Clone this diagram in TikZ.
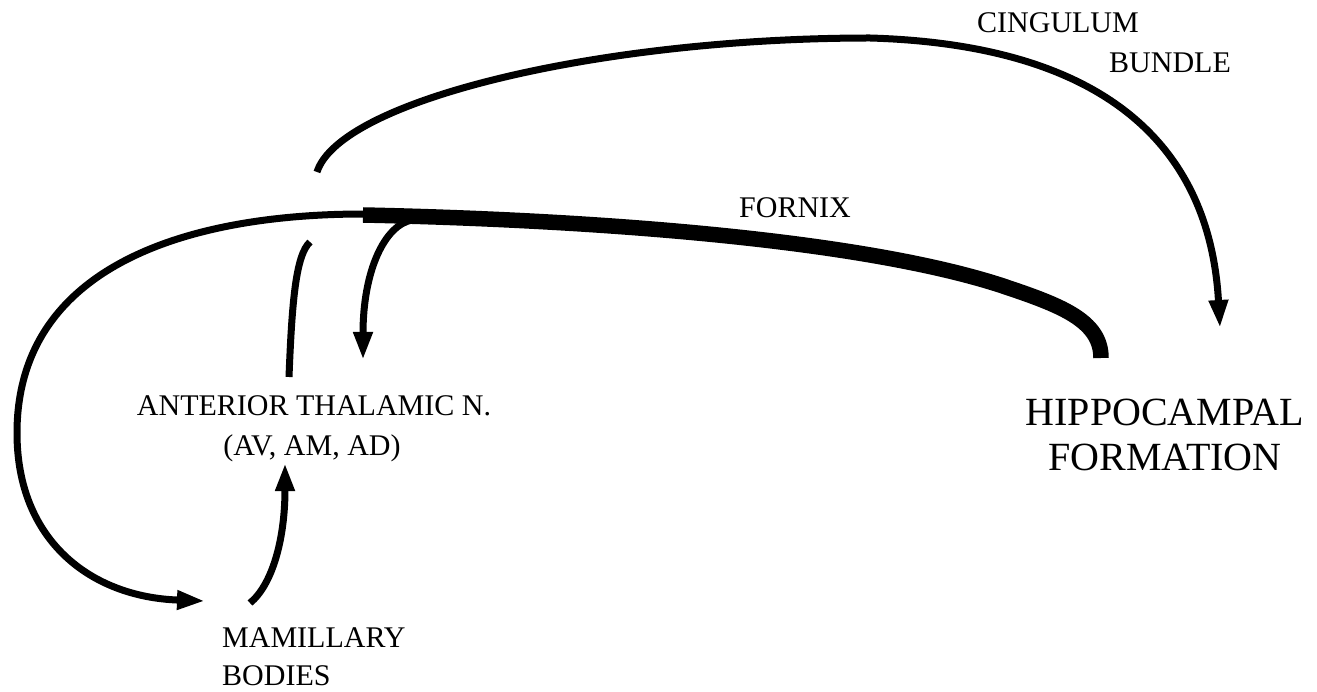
\documentclass[tikz,border=0pt]{standalone}
\usepackage{fontspec}
\setmainfont{Liberation Serif}
\usetikzlibrary{arrows.meta}
\begin{document}
\begin{tikzpicture}[x=1pt,y=-1pt,
  lbl/.style={inner sep=0pt, font=\fontsize{30}{36}\selectfont},
  biglbl/.style={inner sep=0pt, font=\fontsize{40}{48}\selectfont},
  tract/.style={line width=7pt, line cap=butt},
  thicktract/.style={line width=15.5pt, line cap=butt},
  tipped/.style={-{Triangle[length=28pt,width=18pt]}}]
\useasboundingbox[fill=white] (0,0) rectangle (1317,692);

% labels
\node[lbl, anchor=base] (cing1) at (1058,33) {CINGULUM};
\node[lbl, anchor=base] (cing2) at (1170,73) {BUNDLE};
\node[lbl, anchor=base] (fornix) at (795,218) {FORNIX};
\node[lbl, anchor=base] (ant1) at (314,415) {ANTERIOR THALAMIC N.};
\node[lbl, anchor=base] (ant2) at (312,455) {(AV, AM, AD)};
\node[lbl, anchor=base west] (mam1) at (222,647) {MAMILLARY};
\node[lbl, anchor=base west] (mam2) at (222,685) {BODIES};
\node[biglbl, anchor=base] (hip1) at (1165,425) {HIPPOCAMPAL};
\node[biglbl, anchor=base] (hip2) at (1165,470) {FORMATION};

% end points
\coordinate (cgS) at (317,172);
\coordinate (cgT) at (870,38);
\coordinate (cgE) at (1220,328);
\coordinate (fxJ) at (364,214);
\coordinate (fxL) at (17,433);
\coordinate (mbIn) at (205,601);
\coordinate (fxS) at (363,215);
\coordinate (fxM) at (1000,285);
\coordinate (fxE) at (1101,358);
\coordinate (brS) at (412,220);
\coordinate (atIn) at (363,360);
\coordinate (mbOut) at (250,603);
\coordinate (atIn2) at (285,463);
\coordinate (atOut) at (289,377);
\coordinate (atTop) at (310,242);

% cingulum bundle
\draw[tract,tipped] (cgS) .. controls (340,100) and (600,38) .. (cgT)
  .. controls (1110,45) and (1210,150) .. (cgE);
% fornix (thin part) to mamillary bodies
\draw[tract,tipped] (fxJ) .. controls (180,214) and (17,270) .. (fxL)
  .. controls (17,540) and (90,597) .. (mbIn);
% fornix (thick part) from hippocampal formation
\draw[thicktract] (fxS) .. controls (600,220) and (860,240) .. (fxM)
  .. controls (1060,305) and (1101,320) .. (fxE);
% fornix branch to anterior thalamic n.
\draw[tract,tipped] (brS) .. controls (385,225) and (363,270) .. (atIn);
% mamillothalamic tract
\draw[tract,tipped] (mbOut) .. controls (272,585) and (285,540) .. (atIn2);
% anterior thalamic n. to cingulum
\draw[tract] (atOut) .. controls (292,300) and (296,255) .. (atTop);
\end{tikzpicture}
\end{document}
